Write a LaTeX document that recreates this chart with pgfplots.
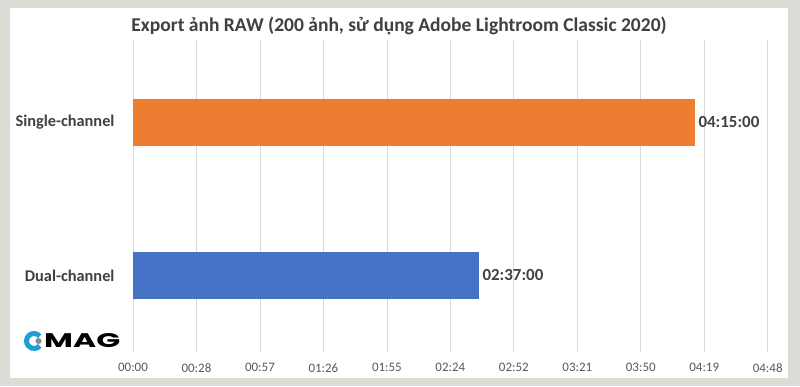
\documentclass[border=0pt]{standalone}
\usepackage{fontspec}
\setmainfont{Carlito}
\newfontfamily\logofont{Poppins}
\usepackage{graphicx}
\usepackage{pgfplots}
\pgfplotsset{compat=1.18}
\definecolor{orangeb}{HTML}{ED7D31}
\definecolor{blueb}{HTML}{4472C4}
\definecolor{gridc}{HTML}{D9D9D9}
\definecolor{txt}{HTML}{404040}
\definecolor{tickc}{HTML}{595959}
\definecolor{bgc}{HTML}{DADDD6}
\definecolor{logob}{HTML}{1BA1D8}
\definecolor{logog}{HTML}{8A8A8A}
\begin{document}
\begin{tikzpicture}[x=1bp,y=1bp]
\fill[bgc] (0,0) rectangle (800,386);
\fill[white] (10,8) rectangle (788,378);
\begin{axis}[
  at={(133bp,34bp)}, anchor=south west,
  scale only axis, width=634.7bp, height=312bp,
  xbar, bar width=47bp,
  xmin=0, xmax=288, ymin=-0.5, ymax=1.535,
  xtick={0,28.8,57.6,86.4,115.2,144,172.8,201.6,230.4,259.2,288},
  xticklabels={00:00,00:28,00:57,01:26,01:55,02:24,02:52,03:21,03:50,04:19,04:48},
  ytick={0,1}, yticklabels={Dual-channel,Single-channel},
  xmajorgrids, major grid style={gridc, line width=0.75bp},
  axis line style={draw=none}, major tick length=0pt,
  xticklabel style={font=\fontsize{13}{15}\selectfont, text=tickc, yshift=-8bp},
  yticklabel style={font=\fontsize{16.4}{18}\selectfont\bfseries, text=txt, xshift=-15bp},
  nodes near coords, point meta=explicit symbolic,
  nodes near coords style={font=\fontsize{17}{19}\selectfont\bfseries, text=txt, anchor=west},
  clip=false
]
\addplot[fill=blueb, draw=none, bar shift=0pt] table[x=v, y=c, meta=lab] {
v c lab
157 0 02:37:00
};
\addplot[fill=orangeb, draw=none, bar shift=0pt] table[x=v, y=c, meta=lab] {
v c lab
255 1 04:15:00
};
\end{axis}
\node[font=\fontsize{19.6}{23}\selectfont\bfseries, text=txt] at (399,360) {Export ảnh RAW (200 ảnh, sử dụng Adobe Lightroom Classic 2020)};
% logo
\draw[logob, line width=5bp] (34,45) ++(40:7.5) arc[start angle=40, end angle=320, radius=7.5];
\fill[logog] (38.5,45) circle (3bp);
\node[anchor=south west, inner sep=0pt, text=black] at (44,38) {\resizebox{76bp}{14bp}{\logofont\bfseries MAG}};
\end{tikzpicture}
\end{document}
